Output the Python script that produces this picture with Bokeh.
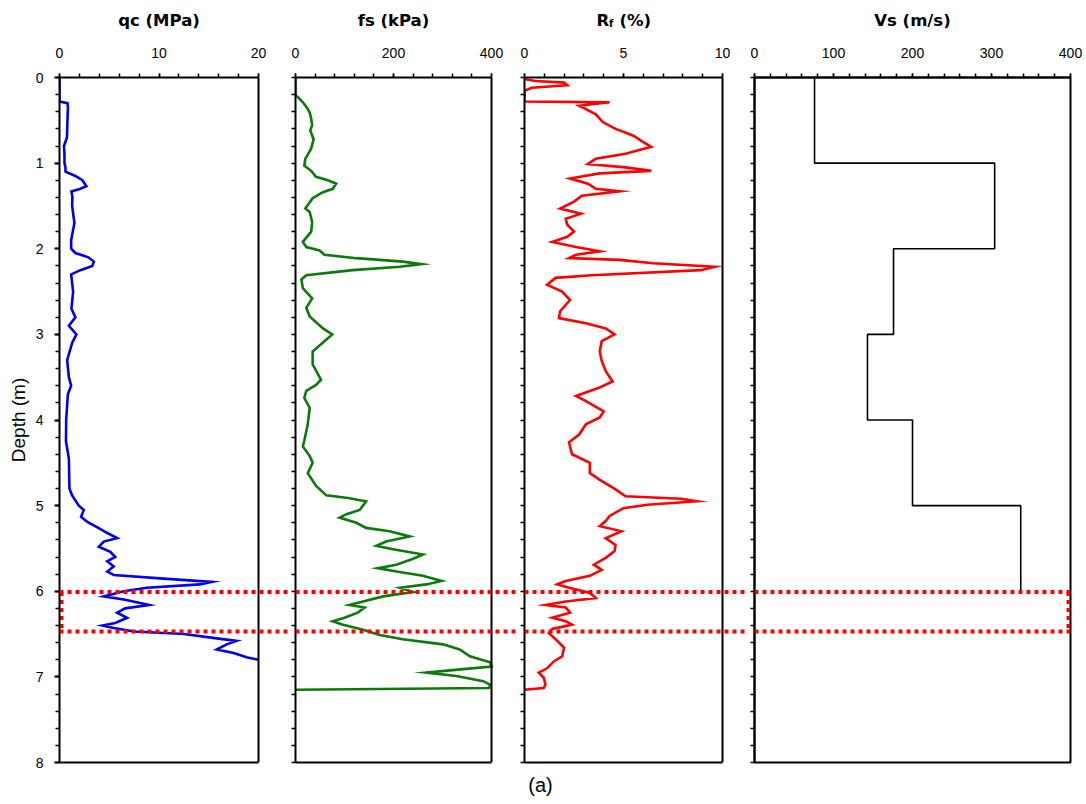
from bokeh.plotting import figure
from bokeh.layouts import row, column
from bokeh.models import Range1d, LinearAxis, FixedTicker, Span, Label
from bokeh.embed import file_html
from bokeh.resources import INLINE

# ---------------- data ----------------
qc_depth = [0.0, 0.28, 0.30, 0.35, 0.5, 0.7, 0.8, 0.9, 1.0, 1.05, 1.1, 1.15, 1.2, 1.27, 1.3, 1.33,
            1.4, 1.5, 1.7, 1.9, 2.0, 2.05, 2.1, 2.15, 2.2, 2.25, 2.3, 2.5, 2.7, 2.8, 2.9, 3.0,
            3.1, 3.3, 3.5, 3.6, 3.7, 4.0, 4.25, 4.45, 4.8, 4.88, 5.0, 5.05, 5.13, 5.19, 5.26,
            5.32, 5.38, 5.42, 5.48, 5.54, 5.6, 5.65, 5.71, 5.77, 5.81, 5.85, 5.89, 5.92, 5.96,
            6.0, 6.06, 6.1, 6.16, 6.2, 6.25, 6.31, 6.37, 6.4, 6.43, 6.47, 6.5, 6.55, 6.58,
            6.62, 6.68, 6.72, 6.77, 6.8]
qc_values = [0.0, 0.0, 0.8, 0.85, 0.8, 0.75, 0.45, 0.5, 0.5, 0.6, 0.6, 1.6, 2.3, 2.7, 2.1, 1.2,
             1.3, 1.27, 1.5, 1.17, 1.17, 1.6, 2.9, 3.45, 3.3, 2.1, 1.17, 1.37, 1.2, 1.6, 0.94, 1.7,
             1.27, 0.77, 0.94, 1.17, 0.84, 0.67, 0.65, 0.94, 1.0, 1.27, 1.94, 2.44, 2.17, 2.8, 3.9,
             4.8, 5.8, 4.45, 3.95, 5.1, 5.6, 4.8, 5.45, 4.8, 5.45, 10.1, 15.3, 14.1, 8.8,
             6.45, 4.45, 6.6, 9.0, 6.6, 5.8, 6.8, 5.6, 4.3, 5.45, 7.5, 12.5, 15.8, 17.8,
             16.8, 15.8, 17.5, 18.8, 20.0]

fs_depth = [0.0, 0.21, 0.23, 0.29, 0.35, 0.41, 0.48, 0.56, 0.62, 0.72, 0.83, 0.95, 1.03, 1.09,
            1.16, 1.2, 1.24, 1.3, 1.34, 1.41, 1.53, 1.57, 1.69, 1.8, 1.92, 1.98, 2.02, 2.07,
            2.11, 2.15, 2.18, 2.21, 2.25, 2.31, 2.36, 2.46, 2.58, 2.69, 2.79, 2.93, 3.0, 3.08,
            3.2, 3.35, 3.53, 3.59, 3.66, 3.74, 3.86, 4.05, 4.24, 4.31, 4.42, 4.5, 4.62, 4.77,
            4.88, 4.91, 4.95, 5.05, 5.1, 5.14, 5.2, 5.26, 5.3, 5.36, 5.42, 5.47, 5.51, 5.57,
            5.62, 5.69, 5.73, 5.77, 5.82, 5.88, 5.92, 5.96, 6.01, 6.06, 6.12, 6.16, 6.19, 6.25,
            6.31, 6.35, 6.39, 6.45, 6.51, 6.56, 6.62, 6.68, 6.76, 6.83, 6.88, 6.91, 6.95, 6.99,
            7.05, 7.09, 7.13, 7.15]
fs_values = [0, 0, 5, 15, 23, 29, 32, 34, 30, 37, 32, 20, 18, 32,
             42, 66, 83, 76, 56, 35, 20, 29, 34, 32, 15, 22, 49, 59,
             124, 219, 257, 213, 117, 22, 12, 15, 34, 22, 29, 56, 75, 59,
             35, 35, 52, 42, 22, 18, 29, 25, 18, 15, 29, 35, 25, 42,
             63, 107, 144, 131, 104, 90, 124, 144, 192, 233, 185, 165, 199, 260,
             240, 206, 168, 206, 260, 298, 267, 213, 240, 179, 138, 110, 141, 127,
             100, 76, 97, 138, 172, 219, 301, 335, 356, 397, 400, 342, 267, 328,
             383, 397, 395, 0]

rf_depth = [0.0, 0.02, 0.04, 0.06, 0.09, 0.12, 0.155, 0.28, 0.29, 0.33, 0.37, 0.43, 0.52, 0.6,
            0.68, 0.74, 0.81, 0.89, 0.95, 1.01, 1.05, 1.09, 1.12, 1.18, 1.24, 1.3, 1.33, 1.38,
            1.45, 1.53, 1.59, 1.65, 1.72, 1.8, 1.86, 1.92, 1.98, 2.03, 2.07, 2.11, 2.13, 2.17,
            2.21, 2.25, 2.31, 2.34, 2.42, 2.5, 2.6, 2.73, 2.81, 2.87, 2.93, 3.0, 3.08, 3.2,
            3.31, 3.43, 3.55, 3.62, 3.72, 3.78, 3.9, 3.97, 4.05, 4.17, 4.26, 4.31, 4.4, 4.5,
            4.62, 4.7, 4.81, 4.89, 4.92, 4.95, 4.99, 5.03, 5.12, 5.18, 5.24, 5.3, 5.38, 5.46,
            5.53, 5.61, 5.69, 5.75, 5.82, 5.88, 5.92, 5.96, 6.02, 6.08, 6.12, 6.16, 6.19, 6.25,
            6.31, 6.35, 6.39, 6.44, 6.49, 6.56, 6.66, 6.76, 6.82, 6.9, 6.95, 7.01, 7.09, 7.13,
            7.15]
rf_values = [0.0, 0.03, 0.55, 2.0, 2.16, 0.37, 0.0, 0.0, 4.3, 2.76, 3.1, 3.6, 3.95, 4.6,
             5.5, 5.9, 6.4, 5.1, 3.6, 3.2, 5.1, 6.4, 3.8, 2.3, 3.2, 3.6, 4.8, 2.9,
             2.5, 1.8, 2.85, 2.08, 2.16, 2.5, 2.16, 1.4, 2.6, 3.8, 2.6, 2.25, 4.8, 6.5,
             9.6, 8.9, 3.4, 1.57, 1.14, 1.9, 2.3, 1.8, 1.74, 3.1, 4.1, 4.55, 3.9, 3.8,
             3.9, 4.1, 4.45, 3.8, 2.6, 3.1, 4.0, 3.8, 3.1, 2.76, 2.25, 2.3, 2.4, 3.3,
             3.3, 3.8, 4.6, 5.1, 7.9, 8.7, 6.2, 5.0, 4.3, 4.1, 3.8, 4.9, 4.1, 4.6,
             4.55, 4.1, 3.5, 3.9, 3.3, 2.08, 1.65, 2.25, 3.3, 3.6, 2.08, 1.06, 2.08, 2.3,
             1.4, 2.08, 2.4, 1.4, 1.23, 1.57, 2.0, 1.9, 1.48, 1.14, 0.72, 0.97, 1.06, 0.97,
             0.0]

vs_layer_top = [0, 1, 2, 3, 4, 5]
vs_layer_bottom = [1, 2, 3, 4, 5, 6]
vs_values = [76, 304, 176, 143, 200, 337]

highlight_depths = [6.01, 6.47]

depth_max = 8
depth_major = [0, 1, 2, 3, 4, 5, 6, 7, 8]
depth_minor = [round(i * 0.2, 1) for i in range(41)]

panels = [
    dict(key="qc", vmax=20, major=[0, 10, 20], step=2, color="#0000ee", title="qc (MPa)"),
    dict(key="fs", vmax=400, major=[0, 200, 400], step=40, color="#0b7a0b", title="fs (kPa)"),
    dict(key="rf", vmax=10, major=[0, 5, 10], step=1, color="#ff0000", title=None),
    dict(key="vs", vmax=400, major=[0, 100, 200, 300, 400], step=20, color="#000000", title="Vs (m/s)"),
]

# ---------------- layout (pixels) ----------------
FRAME_H = 685
TOP = 40
BOTTOM = 10
HEADER_H = 37
FOOTER_H = 30
# (left border, frame width, box width, right border)
geom = [(59, 230, 199, 0), (6, 223, 196, 0), (6, 224, 198, 0), (6, 316, 316, 14)]
TOTAL_W = sum(a + b + d for a, b, c, d in geom)

TICK_FONT = "Liberation Sans"
TITLE_FONT = "DejaVu Sans"
RED = "#ff0000"

series = {
    "qc": (qc_values, qc_depth),
    "fs": (fs_values, fs_depth),
    "rf": (rf_values, rf_depth),
}


def blank(height):
    f = figure(width=TOTAL_W, height=height, x_range=Range1d(0, TOTAL_W), y_range=Range1d(0, height),
               x_axis_location=None, y_axis_location=None, min_border=0,
               output_backend="svg", toolbar_location=None, outline_line_color=None,
               background_fill_color="white", border_fill_color="white")
    f.grid.visible = False
    return f


header = blank(HEADER_H)
footer = blank(FOOTER_H)

figs = []
x0 = 0
for i, (cfg, (lb, fw, bw, rb)) in enumerate(zip(panels, geom)):
    first = i == 0
    last = i == len(panels) - 1
    vmax = cfg["vmax"]
    xend = vmax * fw / bw
    px = vmax / bw  # data units per pixel
    p = figure(width=lb + fw + rb, height=TOP + FRAME_H + BOTTOM,
               x_range=Range1d(0, xend), y_range=Range1d(depth_max, 0),
               x_axis_location=None, y_axis_location=None,
               min_border_left=lb, min_border_right=rb,
               min_border_top=TOP, min_border_bottom=BOTTOM,
               output_backend="svg", toolbar_location=None,
               outline_line_color="black" if last else None, outline_line_width=2,
               background_fill_color="white", border_fill_color="white")
    p.grid.visible = False

    nminor = int(round(vmax / cfg["step"]))
    top_ax = LinearAxis(ticker=FixedTicker(ticks=cfg["major"],
                                           minor_ticks=[k * cfg["step"] for k in range(nminor + 1)]),
                        bounds=(0, vmax),
                        axis_line_width=2, axis_line_color="black",
                        major_tick_out=4, major_tick_in=0, minor_tick_out=4, minor_tick_in=0,
                        major_tick_line_width=1.5, minor_tick_line_width=1.5,
                        major_label_standoff=16, major_label_text_font=TICK_FONT,
                        major_label_text_font_size="14px", major_label_text_color="black")
    p.add_layout(top_ax, "above")

    if first:
        left_ax = LinearAxis(ticker=FixedTicker(ticks=depth_major, minor_ticks=depth_minor),
                             axis_line_width=2, axis_line_color="black",
                             major_tick_out=5, major_tick_in=0, minor_tick_out=4, minor_tick_in=0,
                             major_tick_line_width=2, minor_tick_line_width=1.5,
                             major_label_standoff=11, major_label_text_font=TICK_FONT,
                             major_label_text_font_size="14px", major_label_text_color="black",
                             axis_label="Depth (m)", axis_label_text_font="Liberation Sans",
                             axis_label_text_font_size="19px", axis_label_text_font_style="normal",
                             axis_label_text_color="black", axis_label_standoff=4)
    else:
        left_ax = LinearAxis(ticker=FixedTicker(ticks=[], minor_ticks=depth_minor),
                             axis_line_width=2, axis_line_color="black",
                             minor_tick_out=4, minor_tick_in=0, minor_tick_line_width=1.5,
                             major_label_standoff=0)
    p.add_layout(left_ax, "left")

    if not last:
        bot_ax = LinearAxis(ticker=FixedTicker(ticks=[]), bounds=(0, vmax),
                            axis_line_width=2, axis_line_color="black",
                            major_tick_out=0, minor_tick_out=0, major_label_standoff=0)
        p.add_layout(bot_ax, "below")
        p.add_layout(Span(location=vmax, dimension="height", line_color="black", line_width=2))

    # data
    if cfg["key"] in series:
        xs, ys = series[cfg["key"]]
        p.line(xs, ys, line_color=cfg["color"], line_width=2.6, line_join="miter")
    else:
        vx, vy = [], []
        for v, t, b in zip(vs_values, vs_layer_top, vs_layer_bottom):
            vx += [v, v]
            vy += [t, b]
        p.line(vx, vy, line_color="black", line_width=1.6)

    # red dotted highlight box
    for d in highlight_depths:
        p.add_layout(Span(location=d, dimension="width", line_color=RED, line_width=4, line_dash="4 4"))
    if first:
        p.segment(x0=[2 * px], y0=[highlight_depths[0]], x1=[2 * px], y1=[highlight_depths[1]],
                  line_color=RED, line_width=4, line_dash="4 4")
    if last:
        p.segment(x0=[vmax - 2 * px], y0=[highlight_depths[0]], x1=[vmax - 2 * px], y1=[highlight_depths[1]],
                  line_color=RED, line_width=4, line_dash="4 4")
    figs.append(p)

    # titles in header strip (pixel coordinates of the layout)
    box_left = x0 + lb
    cx = box_left + bw / 2
    ty = 17  # baseline height above strip bottom
    if cfg["title"] is not None:
        header.add_layout(Label(x=cx, y=ty, text=cfg["title"], text_align="center",
                                text_baseline="alphabetic", text_font=TITLE_FONT,
                                text_font_style="bold", text_font_size="16.5px", text_color="black"))
    else:
        for txt, off, dy, size in [("R", -27, 0, "16.5px"), ("f", -14.5, -3, "10px"),
                                   ("(%)", -4, 0, "16.5px")]:
            header.add_layout(Label(x=cx + off, y=ty + dy, text=txt, text_align="left",
                                    text_baseline="alphabetic", text_font=TITLE_FONT,
                                    text_font_style="bold", text_font_size=size, text_color="black"))
        footer.add_layout(Label(x=box_left + 16, y=FOOTER_H - 12, text="(a)", text_align="center",
                                text_baseline="middle", text_font="Liberation Sans",
                                text_font_size="20px", text_color="black"))
    x0 += lb + fw + rb

layout = column(header, row(*figs, spacing=0), footer, spacing=0)
open("out.html", "w").write(file_html(layout, INLINE))
